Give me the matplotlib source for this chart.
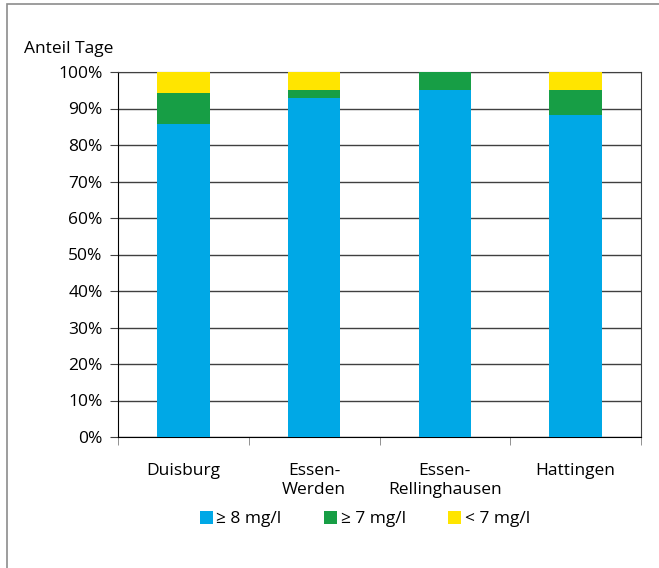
import numpy as np
import matplotlib.pyplot as plt
from matplotlib.patches import Rectangle

plt.rcParams['font.family'] = ['Open Sans', 'DejaVu Sans']

# Daten
stationen = ["Duisburg", "Essen-\nWerden", "Essen-\nRellinghausen", "Hattingen"]
anteil_8 = [85.7, 93.0, 95.0, 88.1]
anteil_7 = [8.6, 2.0, 5.0, 7.0]
anteil_unter_7 = [5.7, 5.0, 0.0, 4.9]
legende = ["\u2265 8 mg/l", "\u2265 7 mg/l", "< 7 mg/l"]
farben = ["#00a8e6", "#179e45", "#ffe500"]

fs = 12.5

fig = plt.figure(figsize=(6.59, 5.68), dpi=100)
ax = fig.add_axes([118 / 659, 1 - 437 / 568, 523 / 659, 365 / 568])

# Rahmen um die Grafik
fig.patches.append(Rectangle((7 / 659, -0.1), 1.2, 1 - 4 / 568 + 0.1,
                             transform=fig.transFigure, fill=False,
                             edgecolor="#8c8c8c", linewidth=1.2))

x = np.arange(len(stationen))
boden = np.zeros(len(stationen))
for werte, farbe, name in zip([anteil_8, anteil_7, anteil_unter_7], farben, legende):
    ax.bar(x, werte, bottom=boden, width=0.4, color=farbe, label=name,
           edgecolor="none", zorder=3)
    boden += np.array(werte)

ax.set_xlim(-0.5, len(stationen) - 0.5)
ax.set_ylim(0, 100)
ax.set_yticks(np.arange(0, 101, 10))
ax.set_yticklabels([f"{v}%" for v in range(0, 101, 10)], fontsize=fs)
ax.yaxis.grid(True, color="#404040", linewidth=1)
ax.set_axisbelow(True)

ax.set_xticks(x)
ax.set_xticklabels(stationen, fontsize=fs, linespacing=1.25)
ax.set_xticks(np.arange(-0.5, len(stationen)), minor=True)
ax.tick_params(axis="x", which="major", length=0, pad=19)
ax.tick_params(axis="x", which="minor", length=6, color="#808080")
ax.tick_params(axis="y", length=6, color="#404040", pad=5)

for seite in ["top", "right"]:
    ax.spines[seite].set_color("#404040")
ax.spines["left"].set_color("black")
ax.spines["bottom"].set_color("black")

ax.text(-0.18, 1.04, "Anteil Tage", transform=ax.transAxes, fontsize=fs,
        ha="left", va="bottom")

fig.legend(loc="center", bbox_to_anchor=(365 / 659, 1 - 519 / 568), ncol=3,
           frameon=False, fontsize=fs, handlelength=0.75, handleheight=0.75,
           handletextpad=0.2, columnspacing=2.45)

fig.savefig("out.png", dpi=100)
